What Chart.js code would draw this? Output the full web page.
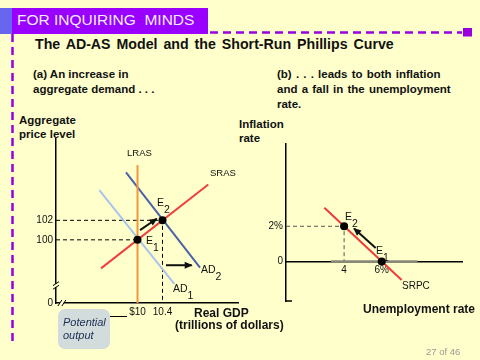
<!DOCTYPE html>
<html>
<head>
<meta charset="utf-8">
<script src="https://cdn.jsdelivr.net/npm/chart.js@4.4.0/dist/chart.umd.min.js"></script>
<style>
  body { margin: 0; }
  #page { position: relative; width: 480px; height: 360px; background: #ffffcc; overflow: hidden;
          font-family: Arial, "Liberation Sans", sans-serif; color: #111; }
  .t { position: absolute; white-space: nowrap; line-height: 1; }
  .b { font-weight: bold; }
  .sub { position: relative; top: 7px; }
  canvas { position: absolute; }
  #deco { position: absolute; left: 0; top: 0; }
  #potential { position: absolute; left: 58px; top: 309px; width: 52px; height: 40px; border-radius: 7px;
               background: #d3dcdc; color: #1c2c54; font-style: italic; font-size: 11px; line-height: 13px; }
</style>
</head>
<body>
<div id="page">
  <svg id="deco" width="480" height="360">
    <rect x="0" y="8" width="12" height="26" fill="#6666ee"/>
    <rect x="12" y="8" width="196" height="26" fill="#9900ff"/>
    <line x1="210" y1="32.5" x2="462" y2="32.5" stroke="#9900dd" stroke-width="2.5" stroke-dasharray="8 5"/>
    <rect x="463" y="28" width="9" height="8.5" fill="#9900dd"/>
    <line x1="12.5" y1="34" x2="12.5" y2="345" stroke="#9900dd" stroke-width="2.5" stroke-dasharray="8 5"/>
    <line x1="110" y1="316.5" x2="127" y2="316.5" stroke="#000" stroke-width="1"/>
  </svg>

  <div class="t" style="left:17px;top:12px;font-size:15.5px;color:#f4eeff;">FOR INQUIRING&nbsp; MINDS</div>
  <div class="t b" style="left:35px;top:37px;font-size:14.2px;word-spacing:2px;">The AD-AS Model and the Short-Run Phillips Curve</div>

  <div class="t b" style="left:33px;top:68.5px;font-size:11.5px;">(a) An increase in</div>
  <div class="t b" style="left:33px;top:83.5px;font-size:11.5px;">aggregate demand . . .</div>
  <div class="t b" style="left:277px;top:68.5px;font-size:11.5px;word-spacing:1px;">(b) . . . leads to both inflation</div>
  <div class="t b" style="left:277px;top:83.5px;font-size:11.5px;word-spacing:1px;">and a fall in the unemployment</div>
  <div class="t b" style="left:277px;top:98.5px;font-size:11.5px;">rate.</div>

  <div class="t b" style="left:19px;top:114.5px;font-size:11.5px;">Aggregate</div>
  <div class="t b" style="left:19px;top:128.5px;font-size:11.5px;">price level</div>
  <div class="t b" style="left:239px;top:118.5px;font-size:11.5px;">Inflation</div>
  <div class="t b" style="left:239px;top:132.5px;font-size:11.5px;">rate</div>

  <canvas id="asad" width="245" height="190" style="left:0;top:130px;"></canvas>
  <canvas id="phillips" width="230" height="175" style="left:240px;top:135px;"></canvas>

  <div class="t" style="left:127px;top:147.8px;font-size:9.5px;">LRAS</div>
  <div class="t" style="left:210px;top:167.8px;font-size:9.5px;">SRAS</div>
  <div class="t" style="left:157px;top:197px;font-size:10.5px;">E<span class="sub">2</span></div>
  <div class="t" style="left:146px;top:234.6px;font-size:10.5px;">E<span class="sub">1</span></div>
  <div class="t" style="left:201px;top:263.6px;font-size:10.5px;">AD<span class="sub">2</span></div>
  <div class="t" style="left:173px;top:282.6px;font-size:10.5px;">AD<span class="sub">1</span></div>
  <div class="t" style="left:345px;top:211px;font-size:10.5px;">E<span class="sub">2</span></div>
  <div class="t" style="left:376px;top:245.3px;font-size:10.5px;">E<span class="sub">1</span></div>
  <div class="t" style="left:402px;top:280.7px;font-size:10px;">SRPC</div>

  <div class="t b" style="left:194px;top:306.5px;font-size:12px;">Real GDP</div>
  <div class="t b" style="left:175px;top:318.5px;font-size:12px;">(trillions of dollars)</div>
  <div class="t b" style="left:363px;top:302.8px;font-size:12px;">Unemployment rate</div>
  <div class="t" style="left:426px;top:346.8px;font-size:9.5px;color:#999;">27 of 46</div>

  <div id="potential"><div style="padding:7px 0 0 5px;">Potential<br>output</div></div>
</div>

<script>
// panel (a): real GDP (trillions) vs aggregate price level
const gdpMin = 8.696, gdpMax = 11.608;
const priceMin = 93.53, priceMax = 110.33;
const lrasX = [10, 10];
const lrasY = [93.53, 107.66];
const srasX = [9.416, 11.133];
const srasY = [97.08, 105.67];
const ad1X = [9.389, 10.589];
const ad1Y = [105.1, 95.5];
const ad2X = [9.816, 11.0];
const ad2Y = [106.9, 97.16];
const eqX = [10, 10.4];          // E1, E2
const eqY = [100, 102];
const moveAlongX = [10.04, 10.307];
const moveAlongY = [101.0, 102.16];
const shiftX = [10.456, 10.867];
const shiftY = [97.4, 97.4];
const gdpTicks = [10, 10.4];
const gdpTickLabels = ['$10', '10.4'];
const priceTicks = [93.53, 100, 102];
const priceTickLabels = ['0', '100', '102'];

// panel (b): unemployment rate vs inflation rate
const unempMin = 0.91, unempMax = 10.27;
const inflMin = -2.25, inflMax = 6.68;
const srpcX = [2.95, 7.06];
const srpcY = [3.05, -1.06];
const pcEqX = [6, 4];            // E1, E2
const pcEqY = [0, 2];
const pcArrowX = [5.68, 4.53];
const pcArrowY = [0.77, 1.87];
const axisShadeX = [3.3, 7.9];
const axisShadeY = [0, 0];
const unempTicks = [4, 6];
const unempTickLabels = ['4', '6%'];
const inflTicks = [0, 2];
const inflTickLabels = ['0', '2%'];

const BG = '#ffffcc';
const pts = (xs, ys) => xs.map((x, i) => ({ x, y: ys[i] }));

function line(data, color, width, extra) {
  return Object.assign({ data, showLine: true, borderColor: color, backgroundColor: color,
    borderWidth: width, pointRadius: 0, fill: false }, extra || {});
}

const arrowHeads = {
  id: 'arrowHeads',
  afterDatasetsDraw(chart) {
    const ctx = chart.ctx;
    chart.data.datasets.forEach((ds, i) => {
      if (!ds.arrow) return;
      const p = chart.getDatasetMeta(i).data;
      const a = p[p.length - 2], b = p[p.length - 1];
      const ang = Math.atan2(b.y - a.y, b.x - a.x);
      ctx.save();
      ctx.translate(b.x, b.y);
      ctx.rotate(ang);
      ctx.beginPath();
      ctx.moveTo(1, 0);
      ctx.lineTo(-7, -3.5);
      ctx.lineTo(-7, 3.5);
      ctx.closePath();
      ctx.fillStyle = ds.borderColor;
      ctx.fill();
      ctx.restore();
    });
  }
};

const axisMarks = {
  id: 'axisMarks',
  afterDraw(chart, args, opts) {
    const { ctx, chartArea: { left, bottom }, scales: { x, y } } = chart;
    ctx.save();
    ctx.strokeStyle = '#000';
    ctx.lineWidth = 1;
    if (opts.yBreak != null) {
      const py = y.getPixelForValue(opts.yBreak);
      ctx.fillStyle = BG;
      ctx.fillRect(left - 2, py - 1.5, 4, 3);
      [-1.8, 1.8].forEach(d => {
        ctx.beginPath();
        ctx.moveTo(left - 3, py + d + 2);
        ctx.lineTo(left + 3, py + d - 2);
        ctx.stroke();
      });
    }
    if (opts.xBreak != null) {
      const px = x.getPixelForValue(opts.xBreak);
      ctx.fillStyle = BG;
      ctx.fillRect(px - 2, bottom - 2, 4, 4);
      [-2, 2].forEach(d => {
        ctx.beginPath();
        ctx.moveTo(px + d - 2, bottom + 3);
        ctx.lineTo(px + d + 2, bottom - 3);
        ctx.stroke();
      });
    }
    if (opts.foot) {
      ctx.lineWidth = 1.5;
      ctx.beginPath();
      ctx.moveTo(left, bottom);
      ctx.lineTo(left + opts.foot, bottom);
      ctx.stroke();
    }
    ctx.restore();
  }
};

function fixedTicks(values, labels) {
  return {
    afterBuildTicks: s => { s.ticks = values.map(v => ({ value: v })); },
    ticks: {
      font: { family: 'Arial, "Liberation Sans"', size: 10 },
      color: '#111',
      padding: 3,
      autoSkip: false,
      maxRotation: 0,
      callback: (v, i) => labels[i]
    }
  };
}

function axis(min, max, values, labels, extra) {
  return Object.assign({
    type: 'linear', min, max,
    grid: { display: false, drawTicks: false },
    border: { display: true, color: '#000', width: 1.5 }
  }, fixedTicks(values, labels), extra || {});
}

const baseOptions = {
  responsive: false,
  animation: false,
  devicePixelRatio: 1,
  plugins: { legend: { display: false }, tooltip: { enabled: false } }
};

const guideA = [
  pts([gdpMin, eqX[1], eqX[1]], [eqY[1], eqY[1], priceMin]),
  pts([gdpMin, eqX[0]], [eqY[0], eqY[0]])
];

new Chart(document.getElementById('asad'), {
  type: 'scatter',
  data: {
    datasets: [
      line(pts(eqX, eqY), '#000', 0, { showLine: false, pointRadius: 4, pointBackgroundColor: '#000', order: 0 }),
      line(pts(moveAlongX, moveAlongY), '#111', 2, { arrow: true, order: 1 }),
      line(pts(shiftX, shiftY), '#111', 2, { arrow: true, order: 1 }),
      line(pts(srasX, srasY), '#ee4040', 2, { order: 2 }),
      line(pts(lrasX, lrasY), '#f2963e', 2, { order: 3 }),
      line(pts(ad2X, ad2Y), '#4a62a8', 2, { order: 4 }),
      line(pts(ad1X, ad1Y), '#a8c4e8', 2, { order: 4 }),
      line(guideA[0], '#000', 1, { borderDash: [4, 3], order: 5 }),
      line(guideA[1], '#000', 1, { borderDash: [4, 3], order: 5 })
    ]
  },
  options: Object.assign({}, baseOptions, {
    layout: { padding: { top: 5, right: 7, left: 0, bottom: 0 } },
    scales: {
      x: axis(gdpMin, gdpMax, gdpTicks, gdpTickLabels, { afterFit: s => { s.height = 17; } }),
      y: axis(priceMin, priceMax, priceTicks, priceTickLabels, { afterFit: s => { s.width = 56; } })
    },
    plugins: Object.assign({}, baseOptions.plugins, { axisMarks: { yBreak: 95.33, xBreak: 8.79 } })
  }),
  plugins: [arrowHeads, axisMarks]
});

const guideB = pts([unempMin, pcEqX[1], pcEqX[1]], [pcEqY[1], pcEqY[1], 0]);

new Chart(document.getElementById('phillips'), {
  type: 'scatter',
  data: {
    datasets: [
      line(pts(pcEqX, pcEqY), '#000', 0, { showLine: false, pointRadius: 4, pointBackgroundColor: '#000', order: 0 }),
      line(pts(pcArrowX, pcArrowY), '#111', 2, { arrow: true, order: 1 }),
      line(pts(srpcX, srpcY), '#ee3a3a', 2, { order: 2 }),
      line(pts(axisShadeX, axisShadeY), '#8a8a78', 2.5, { order: 3 }),
      line(guideB, '#555', 1, { borderDash: [4, 3], order: 5 })
    ]
  },
  options: Object.assign({}, baseOptions, {
    layout: { padding: { top: 6, right: 8, left: 0, bottom: 7 } },
    scales: {
      x: axis(unempMin, unempMax, unempTicks, unempTickLabels, { position: { y: 0 } }),
      y: axis(inflMin, inflMax, inflTicks, inflTickLabels, { afterFit: s => { s.width = 46; } })
    },
    plugins: Object.assign({}, baseOptions.plugins, { axisMarks: { foot: 6 } })
  }),
  plugins: [arrowHeads, axisMarks]
});
</script>
</body>
</html>
